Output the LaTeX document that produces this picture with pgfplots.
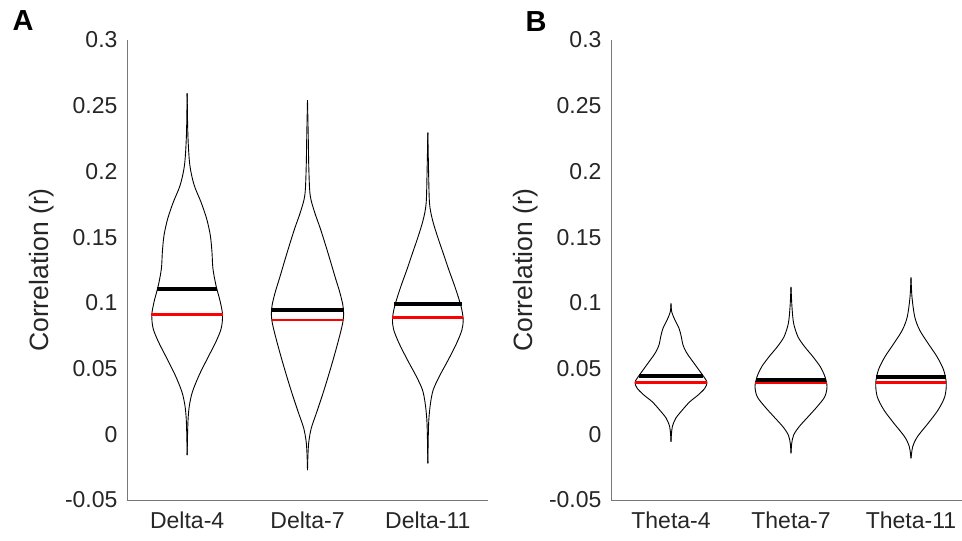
\documentclass[border=0pt]{standalone}
\usepackage{fontspec}
\setmainfont{Liberation Sans}
\usepackage{pgfplots}
\pgfplotsset{compat=1.18}
\usepackage{pgfplotstable}

\definecolor{axgray}{RGB}{120,120,120}
\definecolor{txt}{RGB}{38,38,38}

% violin outlines: y value and half width (in category units)
\pgfplotstableread{
y w
0.2594 0
0.2277 0.006
0.2049 0.022
0.1896 0.058
0.1769 0.114
0.1643 0.161
0.1516 0.192
0.1389 0.206
0.1262 0.214
0.1135 0.239
0.1008 0.275
0.0907 0.294
0.0806 0.283
0.0704 0.239
0.0578 0.169
0.0451 0.100
0.0324 0.044
0.0222 0.019
0.0121 0.008
-0.0006 0.003
-0.0158 0
}\dfour

\pgfplotstableread{
y w
0.2543 0
0.2277 0.006
0.2024 0.011
0.1820 0.022
0.1693 0.058
0.1567 0.106
0.1440 0.150
0.1313 0.192
0.1186 0.233
0.1085 0.267
0.0983 0.294
0.0907 0.300
0.0831 0.289
0.0679 0.247
0.0501 0.192
0.0324 0.133
0.0172 0.078
0.0045 0.031
-0.0057 0.011
-0.0150 0.004
-0.0272 0
}\dseven

\pgfplotstableread{
y w
0.2295 0
0.2011 0.006
0.1758 0.014
0.1630 0.039
0.1503 0.081
0.1377 0.128
0.1250 0.175
0.1123 0.225
0.1021 0.261
0.0945 0.283
0.0869 0.294
0.0793 0.283
0.0692 0.239
0.0565 0.169
0.0438 0.094
0.0336 0.044
0.0235 0.022
0.0108 0.008
-0.0044 0.003
-0.0222 0
}\deleven

\pgfplotstableread{
y w
0.0996 0
0.0932 0.006
0.0869 0.033
0.0806 0.067
0.0742 0.086
0.0679 0.100
0.0616 0.133
0.0552 0.183
0.0489 0.233
0.0425 0.283
0.0392 0.300
0.0349 0.281
0.0298 0.225
0.0247 0.156
0.0184 0.094
0.0121 0.039
0.0057 0.011
-0.0006 0.003
-0.0057 0
}\tfour

\pgfplotstableread{
y w
0.1122 0
0.0970 0.008
0.0844 0.022
0.0742 0.058
0.0666 0.114
0.0590 0.183
0.0514 0.244
0.0438 0.283
0.0362 0.300
0.0285 0.281
0.0209 0.217
0.0133 0.142
0.0057 0.067
-0.0006 0.022
-0.0069 0.006
-0.0145 0
}\tseven

\pgfplotstableread{
y w
0.1194 0
0.1047 0.008
0.0894 0.031
0.0793 0.072
0.0692 0.142
0.0590 0.217
0.0489 0.272
0.0387 0.294
0.0285 0.281
0.0184 0.225
0.0083 0.142
-0.0019 0.053
-0.0095 0.014
-0.0183 0
}\televen

\pgfplotsset{
  panel/.style={
    scale only axis, height=460pt,
    xmin=0.5, ymin=-0.05, ymax=0.3,
    axis lines=left,
    axis line style={axgray, line width=0.9pt, -},
    xtick={1,2,3},
    ytick={-0.05,0,0.05,0.1,0.15,0.2,0.25,0.3},
    yticklabels={-0.05,0,0.05,0.1,0.15,0.2,0.25,0.3},
    major tick length=0pt,
    tick label style={font=\fontsize{23}{27}\selectfont, text=txt},
    yticklabel style={xshift=-6pt},
    xticklabel style={yshift=-8pt},
    ylabel={Correlation (r)},
    ylabel style={font=\fontsize{26.5}{31}\selectfont, text=txt,
      at={([xshift=-85pt]axis description cs:0,0.5)}, anchor=center},
    clip=false,
  },
  violin/.style={black, line width=0.9pt, smooth, tension=0.5, no markers},
  meanline/.style={black, line width=3.6pt, no markers},
  medline/.style={red, line width=2.8pt, no markers},
}

\begin{document}
\begin{tikzpicture}
\useasboundingbox (-127pt,-41pt) rectangle (835pt,500pt);

\begin{axis}[panel, width=361pt, xmax=3.5, at={(0pt,0pt)},
  xticklabels={Delta-4,Delta-7,Delta-11}]
\addplot[violin] table[x expr={1+\thisrow{w}}, y=y] {\dfour};
\addplot[violin] table[x expr={1-\thisrow{w}}, y=y] {\dfour};
\addplot[violin] table[x expr={2+\thisrow{w}}, y=y] {\dseven};
\addplot[violin] table[x expr={2-\thisrow{w}}, y=y] {\dseven};
\addplot[violin] table[x expr={3+\thisrow{w}}, y=y] {\deleven};
\addplot[violin] table[x expr={3-\thisrow{w}}, y=y] {\deleven};
\addplot[meanline] coordinates {(0.75,0.1105) (1.25,0.1105)};
\addplot[medline] coordinates {(0.702,0.0912) (1.298,0.0912)};
\addplot[meanline] coordinates {(1.70,0.0945) (2.30,0.0945)};
\addplot[medline] coordinates {(1.705,0.0869) (2.295,0.0869)};
\addplot[meanline] coordinates {(2.72,0.0993) (3.28,0.0993)};
\addplot[medline] coordinates {(2.705,0.0887) (3.295,0.0887)};
\end{axis}

\begin{axis}[panel, width=351pt, xmax=3.425, at={(484pt,0pt)},
  xticklabels={Theta-4,Theta-7,Theta-11}]
\addplot[violin] table[x expr={1+\thisrow{w}}, y=y] {\tfour};
\addplot[violin] table[x expr={1-\thisrow{w}}, y=y] {\tfour};
\addplot[violin] table[x expr={2+\thisrow{w}}, y=y] {\tseven};
\addplot[violin] table[x expr={2-\thisrow{w}}, y=y] {\tseven};
\addplot[violin] table[x expr={3+\thisrow{w}}, y=y] {\televen};
\addplot[violin] table[x expr={3-\thisrow{w}}, y=y] {\televen};
\addplot[meanline] coordinates {(0.735,0.0445) (1.265,0.0445)};
\addplot[medline] coordinates {(0.70,0.0392) (1.30,0.0392)};
\addplot[meanline] coordinates {(1.71,0.0415) (2.29,0.0415)};
\addplot[medline] coordinates {(1.70,0.0390) (2.30,0.0390)};
\addplot[meanline] coordinates {(2.71,0.0438) (3.29,0.0438)};
\addplot[medline] coordinates {(2.705,0.0392) (3.295,0.0392)};
\end{axis}

\node[font=\bfseries\fontsize{29}{34}\selectfont] at (-104pt,479pt) {A};
\node[font=\bfseries\fontsize{29}{34}\selectfont] at (409pt,478pt) {B};
\end{tikzpicture}
\end{document}
